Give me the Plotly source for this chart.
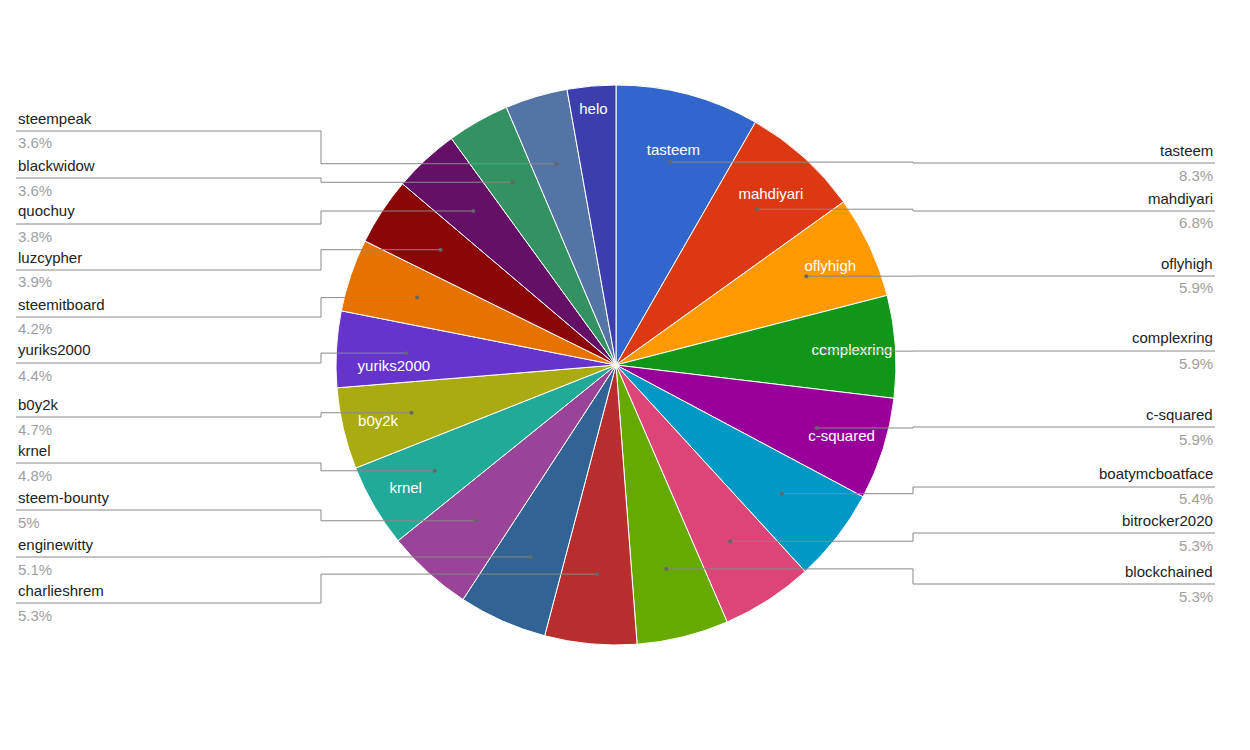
import math
import plotly.graph_objects as go

names = ["tasteem","mahdiyari","oflyhigh","complexring","c-squared","boatymcboatface",
         "bitrocker2020","blockchained","charlieshrem","enginewitty","steem-bounty","krnel",
         "b0y2k","yuriks2000","steemitboard","luzcypher","quochuy","blackwidow","steempeak","helo"]
values = [8.3,6.8,5.9,5.9,5.9,5.4,5.3,5.3,5.3,5.1,5.0,4.8,4.7,4.4,4.2,3.9,3.8,3.6,3.6,2.8]
colors = ["#3366cc","#dc3912","#ff9900","#109618","#990099","#0099c6","#dd4477","#66aa00",
          "#b82e2e","#316395","#994499","#22aa99","#aaaa11","#6633cc","#e67300","#8b0707",
          "#651067","#329262","#5574a6","#3b3eac"]
inside = {"tasteem","mahdiyari","oflyhigh","complexring","c-squared","yuriks2000","b0y2k","krnel","helo"}
right_names = ["tasteem","mahdiyari","oflyhigh","complexring","c-squared","boatymcboatface","bitrocker2020","blockchained"]
right_y = [142,190,255,330,406,466,512,563]
left_names = ["steempeak","blackwidow","quochuy","luzcypher","steemitboard","yuriks2000","b0y2k","krnel","steem-bounty","enginewitty","charlieshrem"]
left_y = [110,157,203,249,296,342,396,442,489,536,582]

W, H = 1250, 750
cx, cy, R = 608, 357, 280
px = lambda x: x / W
py = lambda y: 1 - y / H

fig = go.Figure(go.Pie(
    labels=names, values=values, sort=False, direction="clockwise", rotation=0,
    marker=dict(colors=colors, line=dict(color="white", width=1)),
    text=[n if n in inside else "" for n in names], textinfo="text",
    textposition="inside", insidetextorientation="horizontal",
    textfont=dict(color="white", size=15, family="Liberation Sans, Arial"),
    domain=dict(x=[px(cx - R), px(cx + R)], y=[py(cy + R), py(cy - R)]),
    hoverinfo="label+percent", showlegend=False))

total = sum(values)
cum = 0
mid = {}
for n, v in zip(names, values):
    a = (cum + v / 2) / total * 2 * math.pi
    mid[n] = (cx + 0.75 * R * math.sin(a), cy - 0.75 * R * math.cos(a))
    cum += v

shapes, anns = [], []
def line(x0, y0, x1, y1):
    shapes.append(dict(type="line", xref="paper", yref="paper", x0=px(x0), y0=py(y0),
                       x1=px(x1), y1=py(y1), line=dict(color="#888", width=1)))

def label(n, y, side):
    i = names.index(n)
    ly = y + 13
    dx, dy = mid[n]
    ex, end = (905, 1207) if side == "r" else (313, 8)
    line(dx, dy, ex, dy); line(ex, dy, ex, ly); line(ex, ly, end, ly)
    shapes.append(dict(type="circle", xref="paper", yref="paper", x0=px(dx-2), x1=px(dx+2),
                       y0=py(dy+2), y1=py(dy-2), fillcolor="#666", line=dict(width=0)))
    xa = "right" if side == "r" else "left"
    anns.append(dict(x=px(end), y=py(y), xref="paper", yref="paper", text=n, showarrow=False,
                     xanchor=xa, yanchor="middle", font=dict(size=15, color="#222")))
    anns.append(dict(x=px(end), y=py(y + 25), xref="paper", yref="paper",
                     text=f"{values[i]:g}%", showarrow=False, xanchor=xa, yanchor="middle",
                     font=dict(size=15, color="#9e9e9e")))

for n, y in zip(right_names, right_y): label(n, y, "r")
for n, y in zip(left_names, left_y): label(n, y, "l")

fig.update_layout(width=W, height=H, margin=dict(l=0, r=0, t=0, b=0),
                  paper_bgcolor="white", shapes=shapes, annotations=anns,
                  font=dict(family="Liberation Sans, Arial"))
fig.write_html("out.html")
